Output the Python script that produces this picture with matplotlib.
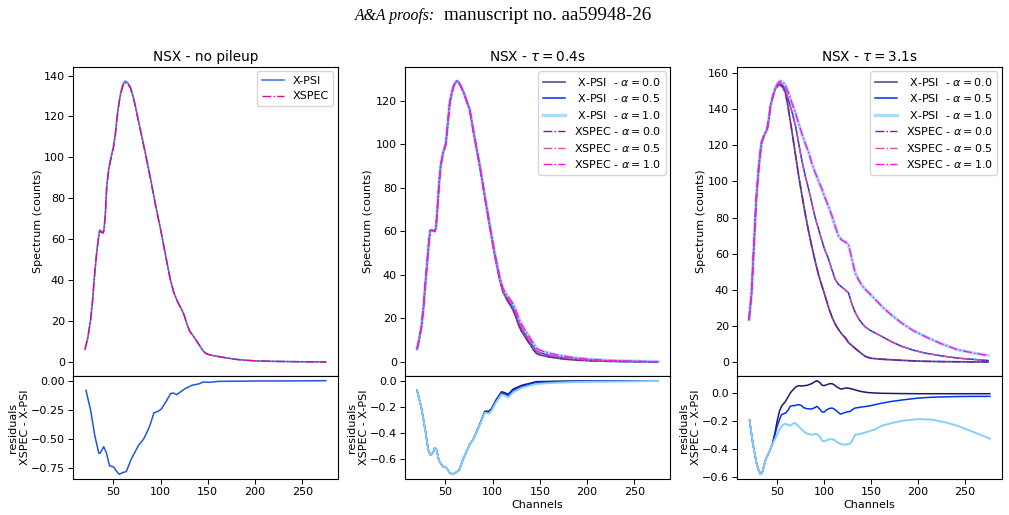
import matplotlib
matplotlib.use("Agg")
import matplotlib.pyplot as plt
import numpy as np

plt.rcParams['font.family'] = ['DejaVu Sans']
plt.rcParams['mathtext.fontset'] = 'dejavusans'

# ---------------- Panel 1: no pileup ----------------
ch1 = [20, 23, 26, 28, 30, 32, 34, 35.5, 37, 39, 40, 41.5, 43, 45, 47, 50, 52, 54, 56, 58,
       60, 62.5, 65, 68, 72, 78, 84, 89, 95, 100, 105, 110, 114, 118, 122, 125, 128, 131,
       135, 140, 145, 148, 152, 160, 170, 180, 190, 200, 220, 240, 260, 275]
xpsi_nopile = [6.3, 12, 21, 30, 42, 52, 60, 64.5, 64, 63.5, 64.5, 72, 86, 94, 99, 105, 111, 120,
               127, 132, 135.5, 137.3, 136.5, 134.5, 128, 115, 102, 90.6, 76, 65, 53, 41, 34,
               29.5, 26, 23, 18.5, 15, 12.5, 9, 5.5, 4.2, 3.5, 2.8, 2.0, 1.3, 0.9, 0.6, 0.35,
               0.2, 0.1, 0.05]
xspec_nopile = [6.2, 11.8, 20.7, 29.6, 41.5, 51.5, 59.4, 63.9, 63.4, 62.9, 63.9, 71.3, 85.3, 93.3,
                98.3, 104.3, 110.2, 119.2, 126.2, 131.2, 134.7, 136.5, 135.8, 133.9, 127.5, 114.5,
                101.6, 90.2, 75.7, 64.8, 52.8, 40.9, 33.9, 29.4, 25.9, 22.9, 18.4, 14.96, 12.47,
                8.98, 5.49, 4.19, 3.49, 2.8, 2.0, 1.3, 0.9, 0.6, 0.35, 0.2, 0.1, 0.05]

rch1 = [21, 25.8, 30.4, 34.6, 36, 39.8, 42.6, 46, 50.3, 53, 56.3, 60, 63.7, 69, 76.7, 82, 88,
        93, 97.7, 101, 106, 110.7, 113.5, 117, 120.5, 126, 133, 141.6, 145, 152, 161, 198, 240, 275]
resid_nopile = [-0.082, -0.246, -0.47, -0.62, -0.62, -0.564, -0.615, -0.728, -0.737, -0.77, -0.80,
                -0.785, -0.776, -0.67, -0.552, -0.50, -0.40, -0.275, -0.26, -0.24, -0.176, -0.11,
                -0.105, -0.119, -0.099, -0.068, -0.04, -0.025, -0.011, -0.014, -0.006, -0.003,
                -0.002, 0.0]

# ---------------- Panel 2: tau = 0.4 s ----------------
ch2 = [20, 22, 24.6, 27, 28, 30, 32.7, 34, 36, 38.7, 40, 41.5, 43.3, 45, 47.5, 50.4, 52, 54.6,
       57, 59, 61, 63, 66, 70, 75.8, 80, 86.4, 92, 97, 102, 107.6, 111, 114.7, 118, 121, 123.5,
       127, 130.6, 135, 139.5, 143, 146.5, 150, 160, 170, 180, 190, 203, 220, 240, 260, 275]
spec2_a00 = [6, 10, 16, 26, 31.7, 42, 56, 60.4, 60.5, 60, 61.5, 70, 82, 90, 96, 100, 107, 119,
             124, 127, 128.7, 129, 127, 123, 115.7, 105, 89.8, 75, 62, 49.5, 37.5, 32.2, 29.0,
             26.6, 24.4, 22.1, 17.6, 14.1, 11.1, 8.2, 5.7, 4.0, 3.3, 2.35, 1.7, 1.2, 0.9, 0.6,
             0.35, 0.2, 0.1, 0.05]
spec2_a05 = [6, 10, 16, 26, 31.7, 42, 56, 60.4, 60.5, 60, 61.5, 70, 82, 90, 96, 100, 107, 119,
             124, 127, 128.7, 129, 127, 123, 115.7, 105.2, 90.1, 75.4, 62.5, 50.1, 38.2, 33.0,
             30.0, 27.8, 25.8, 23.6, 19.2, 15.7, 12.6, 9.6, 7.2, 5.2, 4.3, 3.15, 2.4, 1.8, 1.35,
             0.95, 0.6, 0.35, 0.2, 0.12]
spec2_a10 = [6, 10, 16, 26, 31.7, 42, 56, 60.4, 60.5, 60, 61.5, 70, 82, 90, 96, 100, 107, 119,
             124, 127, 128.7, 129, 127, 123, 115.8, 105.4, 90.4, 75.8, 63.0, 50.7, 38.9, 33.8,
             31.0, 29.0, 27.2, 25.0, 20.9, 17.3, 14.2, 11.1, 8.7, 6.4, 5.4, 4.05, 3.1, 2.4, 1.8,
             1.3, 0.8, 0.5, 0.3, 0.2]

rch2 = [20, 24.6, 29.2, 31.7, 34.1, 37, 38.7, 40.5, 43.3, 47.5, 51, 54.6, 57.4, 61, 64.5, 68.8,
        75.8, 79.4, 86.4, 91.8, 96, 98.8, 103.5, 109.4, 112.3, 116.5, 121.8, 130.6, 139.5, 146.5,
        157, 170, 185, 210, 240, 275]
resid2_a00 = [-0.074, -0.208, -0.40, -0.525, -0.57, -0.55, -0.513, -0.525, -0.614, -0.657, -0.665,
              -0.703, -0.716, -0.703, -0.685, -0.60, -0.487, -0.45, -0.333, -0.233, -0.234, -0.214,
              -0.148, -0.085, -0.09, -0.104, -0.064, -0.036, -0.02, -0.007, -0.006, -0.004,
              -0.003, -0.002, -0.001, 0.0]
resid2_a05 = [-0.074, -0.208, -0.40, -0.525, -0.57, -0.55, -0.513, -0.525, -0.614, -0.657, -0.665,
              -0.703, -0.716, -0.703, -0.685, -0.60, -0.487, -0.45, -0.336, -0.239, -0.242, -0.222,
              -0.157, -0.095, -0.1, -0.115, -0.075, -0.045, -0.027, -0.014, -0.012, -0.008,
              -0.006, -0.004, -0.003, -0.001]
resid2_a10 = [-0.074, -0.208, -0.40, -0.525, -0.57, -0.55, -0.513, -0.525, -0.614, -0.657, -0.665,
              -0.703, -0.716, -0.703, -0.685, -0.60, -0.488, -0.452, -0.340, -0.245, -0.251, -0.23,
              -0.167, -0.105, -0.112, -0.127, -0.088, -0.055, -0.037, -0.025, -0.02, -0.015,
              -0.011, -0.008, -0.006, -0.002]

# ---------------- Panel 3: tau = 3.1 s ----------------
ch3 = [20, 22.7, 25, 27.7, 30.5, 33.3, 35.8, 39.4, 41, 43, 45.5, 48, 51, 53.5, 56, 58.9, 62, 66,
       69.5, 73, 76.6, 80, 83.7, 87, 90.5, 94.3, 97.9, 101, 105, 108.5, 112, 115.6, 119, 122.7,
       126.2, 129.8, 133.3, 137, 140.4, 144, 149.3, 155, 161.7, 172, 183, 195, 207.8, 225, 243,
       260, 275]
spec3_a00 = [23.5, 38, 62, 90, 108.6, 121.5, 125, 129, 134, 142, 147, 151, 153, 153.5, 152, 149,
             140, 127, 115, 103, 92, 82, 72, 64, 56, 48, 42, 37, 30, 25, 21, 18, 15.5, 13.5, 10.8,
             9.2, 7.6, 6, 4.6, 3.2, 2.2, 1.9, 1.6, 1.3, 1.0, 0.7, 0.45, 0.3, 0.2, 0.12, 0.1]
spec3_a05 = [23.5, 38, 62, 90, 108.6, 121.5, 125, 129, 134, 142, 147, 151.3, 153.6, 154.5, 153,
             151, 145, 138, 131, 121, 111, 103, 95.6, 88, 80, 73.4, 67, 62, 56.8, 51, 45.7, 43,
             41.5, 40, 38.3, 32, 27.5, 24, 21.6, 19.5, 17.6, 16, 14.2, 11.3, 8.7, 6.7, 5, 3.5, 2.2,
             1.5, 0.9]
spec3_a10 = [23.5, 38, 62, 90, 108.6, 121.5, 125, 129, 134, 142, 147.3, 151.8, 154.5, 155.5, 155,
             153, 149, 143, 138, 132, 126, 121, 116, 110, 105, 100, 95.6, 91, 86, 80.8, 75, 69.7,
             67.5, 66.5, 65, 57, 49.4, 45.5, 42.5, 40.3, 37.6, 34.5, 30.9, 26, 21.6, 17.5, 14.2,
             10.2, 6.8, 5, 3.7]

rch3 = [20.6, 24, 28, 30, 32.3, 34, 37.6, 41, 44.7, 47.5, 50, 52.5, 54.6, 57, 58.9, 61.5, 64,
        66.5, 68.8, 71, 73, 76, 78.4, 82, 87, 90, 92.6, 95.5, 98, 100.5, 103, 106, 108.5, 111,
        113.8, 117.4, 119, 122.7, 124.5, 128, 130, 133.3, 140, 147.5, 154.6, 161.7, 172, 183,
        200.7, 215, 230, 243, 260, 277]
resid3_a00 = [-0.195, -0.357, -0.50, -0.545, -0.58, -0.571, -0.476, -0.43, -0.37, -0.29, -0.2,
              -0.13, -0.095, -0.075, -0.06, -0.03, 0.0, 0.02, 0.036, 0.048, 0.052, 0.05, 0.052,
              0.055, 0.067, 0.08, 0.088, 0.075, 0.055, 0.053, 0.06, 0.066, 0.067, 0.058, 0.043,
              0.03, 0.029, 0.035, 0.036, 0.032, 0.029, 0.022, 0.01, 0.003, 0.0, -0.002, -0.003,
              -0.004, -0.005, -0.005, -0.005, -0.005, -0.005, -0.005]
resid3_a05 = [-0.195, -0.357, -0.50, -0.545, -0.58, -0.571, -0.476, -0.43, -0.37, -0.30, -0.238,
              -0.19, -0.155, -0.148, -0.143, -0.125, -0.095, -0.09, -0.09, -0.085, -0.083, -0.09,
              -0.105, -0.112, -0.114, -0.105, -0.095, -0.115, -0.135, -0.135, -0.119, -0.11,
              -0.107, -0.115, -0.13, -0.15, -0.148, -0.138, -0.135, -0.131, -0.12, -0.107, -0.1,
              -0.093, -0.083, -0.072, -0.06, -0.05, -0.036, -0.03, -0.027, -0.025, -0.024, -0.024]
resid3_a10 = [-0.195, -0.357, -0.50, -0.545, -0.58, -0.571, -0.476, -0.43, -0.37, -0.33, -0.298,
              -0.26, -0.238, -0.225, -0.219, -0.228, -0.233, -0.22, -0.214, -0.225, -0.238, -0.26,
              -0.274, -0.29, -0.298, -0.293, -0.293, -0.31, -0.34, -0.345, -0.336, -0.331, -0.329,
              -0.335, -0.35, -0.362, -0.366, -0.369, -0.366, -0.362, -0.34, -0.298, -0.29, -0.274,
              -0.26, -0.233, -0.215, -0.198, -0.186, -0.19, -0.21, -0.235, -0.28, -0.326]

alphas = ["0.0", "0.5", "1.0"]
titles = ["NSX - no pileup", r"NSX - $\tau = 0.4$s", r"NSX - $\tau = 3.1$s"]

# ---------------- styling ----------------
FS = 8.0
xpsi_cols = [('#191970', 0.7, 1.3), ('#0033ee', 1.0, 1.1), ('#87cefa', 0.7, 2.4)]
xspec_cols = ['#7d1a9e', '#dc4c9f', '#ff10f0']
resid_cols = [('#191970', 1.1), ('#0033ee', 1.1), ('#87cefa', 1.4)]

fig = plt.figure(figsize=(10.09, 5.15), dpi=100)

lefts = [0.0723, 0.4014, 0.7304]
W = 0.2626
main_b, main_h = 0.2699, 0.600
res_b, res_h = 0.0699, 0.200
main_label_x = [-0.113, -0.121, -0.117]
res_label_x = [-0.162, -0.136, -0.136]

def style(ax):
    ax.tick_params(labelsize=FS, length=3.3, width=0.7, pad=2.5)
    for s in ax.spines.values():
        s.set_linewidth(0.8)

axes_main = []
axes_res = []
for i in range(3):
    am = fig.add_axes([lefts[i], main_b, W, main_h])
    ar = fig.add_axes([lefts[i], res_b, W, res_h], sharex=am)
    style(am); style(ar)
    am.tick_params(axis='x', bottom=False, labelbottom=False)
    am.set_title(titles[i], fontsize=9.8, pad=4)
    am.set_ylabel("Spectrum (counts)", fontsize=FS)
    am.yaxis.set_label_coords(main_label_x[i], 0.5)
    ar.set_ylabel("residuals\nXSPEC - X-PSI", fontsize=FS, linespacing=1.25)
    ar.yaxis.set_label_coords(res_label_x[i], 0.5)
    axes_main.append(am); axes_res.append(ar)

# Panel 1
am, ar = axes_main[0], axes_res[0]
am.plot(ch1, xpsi_nopile, color='#4a78e6', lw=1.2, label='X-PSI')
am.plot(ch1, xspec_nopile, color='#dd0a88', lw=1.0, ls='-.', label='XSPEC')
am.legend(loc='upper right', fontsize=FS, borderaxespad=0.4, handlelength=2.0)
ar.plot(rch1, resid_nopile, color='#2255dd', lw=1.1)

# Panels 2 and 3
spec_sets = [[spec2_a00, spec2_a05, spec2_a10], [spec3_a00, spec3_a05, spec3_a10]]
res_sets = [[resid2_a00, resid2_a05, resid2_a10], [resid3_a00, resid3_a05, resid3_a10]]
chs = [ch2, ch3]
rchs = [rch2, rch3]
for k in range(2):
    am, ar = axes_main[k + 1], axes_res[k + 1]
    for j in range(3):
        c, a, lw = xpsi_cols[j]
        am.plot(chs[k], spec_sets[k][j], color=c, alpha=a, lw=lw,
                label=r" X-PSI  - $\alpha = %s$" % alphas[j])
    for j in range(3):
        am.plot(chs[k], spec_sets[k][j], color=xspec_cols[j], lw=1.0, ls='-.',
                label=r"XSPEC - $\alpha = %s$" % alphas[j])
    am.legend(loc='upper right', fontsize=FS, borderaxespad=0.4, handlelength=2.0,
              labelspacing=0.4)
    for j in range(3):
        c, lw = resid_cols[j]
        ar.plot(rchs[k], res_sets[k][j], color=c, lw=lw)
    ar.set_xlabel("Channels", fontsize=FS, labelpad=2)

for ar in axes_res:
    ar.set_xticks([50, 100, 150, 200, 250])

# Page header
t1 = fig.text(0.4311, 1 - 19.5 / 515, "A&A proofs:", fontsize=11.3, family='Liberation Serif',
              style='italic', ha='right', va='baseline')
axes_main[0].annotate("manuscript no. aa59948-26", xy=(1, 0), xycoords=t1,
                      xytext=(6.5, 0), textcoords='offset points',
                      fontsize=13.7, family='Liberation Serif', ha='left', va='bottom',
                      annotation_clip=False)

fig.savefig("out.png", dpi=100)
